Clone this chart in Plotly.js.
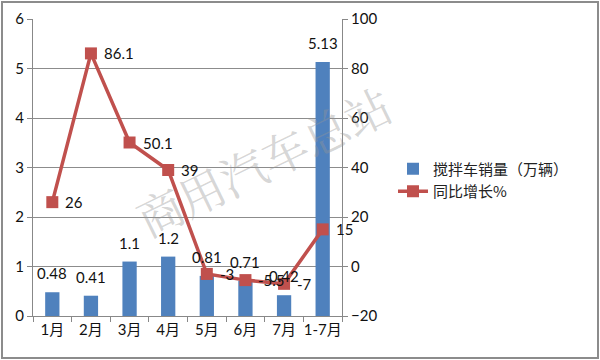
<!DOCTYPE html>
<html><head><meta charset="utf-8">
<script src="https://cdn.plot.ly/plotly-3.0.1.min.js"></script>
<style>body{margin:0;background:#fff}#c{position:absolute;left:0;top:0;width:600px;height:360px}#b{position:absolute;left:1px;top:1px;width:594px;height:354px;border:2px solid #8c8c8c;pointer-events:none}</style>
</head><body><div id="c"></div><div id="b"></div>
<script>
const categories = ['1月','2月','3月','4月','5月','6月','7月','1-7月'];
const sales = [0.48, 0.41, 1.1, 1.2, 0.81, 0.71, 0.42, 5.13];
const salesLabels = ['0.48','0.41','1.1','1.2','0.81','0.71','0.42','5.13'];
const growth = [26, 86.1, 50.1, 39, -3, -5.5, -7, 15];
const growthLabels = ['26','86.1','50.1','39','-3','-5.5','-7','15'];
const leftTicks = [0,1,2,3,4,5,6];
const rightTicks = [-20,0,20,40,60,80,100];
const seriesNames = ['搅拌车销量（万辆）','同比增长%'];
const watermark = '商用汽车总站';

const numFont = {family:'Lato, "Noto Sans CJK SC", sans-serif', size:15, color:'#111'};
const data = [
  {type:'bar', x:categories, y:sales, name:seriesNames[0], yaxis:'y',
   marker:{color:'#4F81BD'}, width:0.37},
  {type:'scatter', mode:'lines+markers', x:categories, y:growth, name:seriesNames[1], yaxis:'y2',
   line:{color:'#C0504D', width:3.5}, marker:{symbol:'square', size:12, color:'#C0504D'}, cliponaxis:false}
];
const annotations = [{text:watermark, xref:'paper', yref:'paper', x:0.745, y:0.525, xanchor:'center', yanchor:'middle', showarrow:false,
    textangle:-26, font:{family:'"Noto Serif CJK SC","Noto Sans CJK SC", serif', size:46, color:'rgba(150,150,150,0.4)'}}];
categories.forEach((c,i)=>{
  annotations.push({x:c, y:sales[i], xref:'x', yref:'y', text:salesLabels[i], showarrow:false,
    xanchor:'center', yanchor:'bottom', yshift:8, font:numFont});
  annotations.push({x:c, y:growth[i], xref:'x', yref:'y2', text:growthLabels[i], showarrow:false,
    xanchor:'left', yanchor:'middle', xshift:11, font:numFont});
});
const layout = {
  width:600, height:360,
  margin:{l:33, r:258, t:19, b:44},
  paper_bgcolor:'#fff', plot_bgcolor:'#fff',
  font:{family:'Lato, "Noto Sans CJK SC", sans-serif', size:15, color:'#111'},
  showlegend:true,
  legend:{xref:'container', yref:'container', x:0.655, y:0.5, xanchor:'left', yanchor:'middle',
    font:{family:'"Noto Sans CJK SC", sans-serif', size:15, color:'#222'}, tracegroupgap:6},
  bargap:0.63,
  xaxis:{type:'category', range:[-0.5,7.5], showline:true, linecolor:'#888', linewidth:1, ticks:'outside', tickson:'boundaries',
    ticklen:5, tickcolor:'#888', showgrid:false, tickangle:0, tickfont:{family:'Lato, "Noto Sans CJK SC", sans-serif', size:15}},
  yaxis:{range:[0,6], tickvals:leftTicks, showline:true, linecolor:'#888', ticks:'outside', ticklen:5, tickcolor:'#888',
    showgrid:true, gridcolor:'#8c8c8c', gridwidth:1, zeroline:false, tickfont:{size:15}},
  yaxis2:{range:[-20,100], tickvals:rightTicks, overlaying:'y', side:'right', showline:true, linecolor:'#888',
    ticks:'outside', ticklen:5, tickcolor:'#888', showgrid:false, zeroline:false, tickfont:{size:15}},
  annotations:annotations
};
Plotly.newPlot('c', data, layout, {displayModeBar:false, staticPlot:true});
</script></body></html>
